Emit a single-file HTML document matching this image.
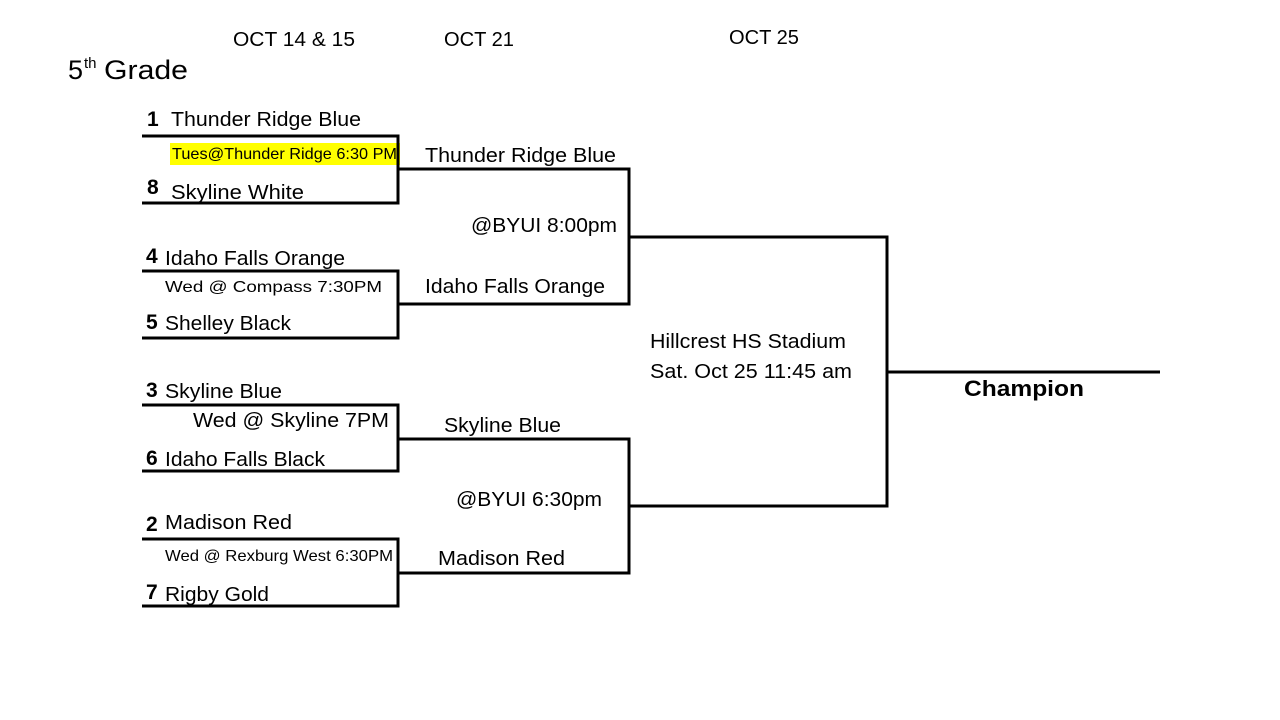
<!DOCTYPE html>
<html><head><meta charset="utf-8"><style>
html,body{margin:0;padding:0;background:#fff;}
svg{display:block;}
text{font-family:"Liberation Sans",sans-serif;fill:#000;}
.n{font-size:20px;}
.s{font-size:16px;}
.b{font-weight:bold;font-size:21px;}
</style></head><body>
<svg width="1280" height="720" viewBox="0 0 1280 720" xmlns="http://www.w3.org/2000/svg">
<rect x="170" y="143" width="230" height="22" fill="#ffff00"/>
<g stroke="#000" stroke-width="3" fill="none">
<polyline points="142,136 398,136 398,203 142,203"/>
<polyline points="142,271 398,271 398,338 142,338"/>
<polyline points="142,405 398,405 398,471 142,471"/>
<polyline points="142,539 398,539 398,606 142,606"/>
<polyline points="398,169 629,169 629,304 398,304"/>
<polyline points="398,439 629,439 629,573 398,573"/>
<polyline points="629,237 887,237 887,506 629,506"/>
<line x1="887" y1="372" x2="1160" y2="372"/>
</g>
<text class="n" x="233" y="46" textLength="122" lengthAdjust="spacingAndGlyphs">OCT 14 &amp; 15</text>
<text class="n" x="444" y="46" textLength="70" lengthAdjust="spacingAndGlyphs">OCT 21</text>
<text class="n" x="729" y="44" textLength="70" lengthAdjust="spacingAndGlyphs">OCT 25</text>
<text x="68" y="79" style="font-size:27px">5</text>
<text x="84" y="68" style="font-size:15px">th</text>
<text x="104" y="79" style="font-size:27px" textLength="84" lengthAdjust="spacingAndGlyphs">Grade</text>

<text class="b" x="147" y="126">1</text>
<text class="n" x="171" y="126" textLength="190" lengthAdjust="spacingAndGlyphs">Thunder Ridge Blue</text>
<text class="s" x="172" y="159" textLength="225" lengthAdjust="spacingAndGlyphs">Tues@Thunder Ridge 6:30 PM</text>
<text class="b" x="147" y="194">8</text>
<text class="n" x="171" y="199" textLength="133" lengthAdjust="spacingAndGlyphs">Skyline White</text>

<text class="b" x="146" y="263">4</text>
<text class="n" x="165" y="265" textLength="180" lengthAdjust="spacingAndGlyphs">Idaho Falls Orange</text>
<text class="s" x="165" y="292" textLength="217" lengthAdjust="spacingAndGlyphs">Wed @ Compass 7:30PM</text>
<text class="b" x="146" y="329">5</text>
<text class="n" x="165" y="330" textLength="126" lengthAdjust="spacingAndGlyphs">Shelley Black</text>

<text class="b" x="146" y="397">3</text>
<text class="n" x="165" y="398" textLength="117" lengthAdjust="spacingAndGlyphs">Skyline Blue</text>
<text class="n" x="193" y="427" textLength="196" lengthAdjust="spacingAndGlyphs">Wed @ Skyline 7PM</text>
<text class="b" x="146" y="465">6</text>
<text class="n" x="165" y="466" textLength="160" lengthAdjust="spacingAndGlyphs">Idaho Falls Black</text>

<text class="b" x="146" y="531">2</text>
<text class="n" x="165" y="529" textLength="127" lengthAdjust="spacingAndGlyphs">Madison Red</text>
<text class="s" x="165" y="561" textLength="228" lengthAdjust="spacingAndGlyphs">Wed @ Rexburg West 6:30PM</text>
<text class="b" x="146" y="599">7</text>
<text class="n" x="165" y="601" textLength="104" lengthAdjust="spacingAndGlyphs">Rigby Gold</text>

<text class="n" x="425" y="162" textLength="191" lengthAdjust="spacingAndGlyphs">Thunder Ridge Blue</text>
<text class="n" x="471" y="232" textLength="146" lengthAdjust="spacingAndGlyphs">@BYUI 8:00pm</text>
<text class="n" x="425" y="293" textLength="180" lengthAdjust="spacingAndGlyphs">Idaho Falls Orange</text>
<text class="n" x="444" y="432" textLength="117" lengthAdjust="spacingAndGlyphs">Skyline Blue</text>
<text class="n" x="456" y="506" textLength="146" lengthAdjust="spacingAndGlyphs">@BYUI 6:30pm</text>
<text class="n" x="438" y="565" textLength="127" lengthAdjust="spacingAndGlyphs">Madison Red</text>
<text class="n" x="650" y="348" textLength="196" lengthAdjust="spacingAndGlyphs">Hillcrest HS Stadium</text>
<text class="n" x="650" y="378" textLength="202" lengthAdjust="spacingAndGlyphs">Sat. Oct 25 11:45 am</text>
<text x="964" y="396" style="font-weight:bold;font-size:22px" textLength="120" lengthAdjust="spacingAndGlyphs">Champion</text>
</svg>
</body></html>
